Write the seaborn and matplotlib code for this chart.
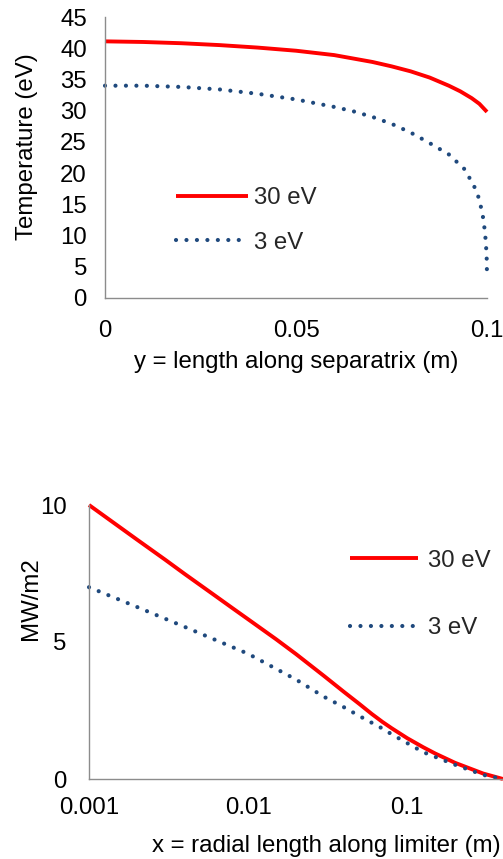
import numpy as np
import pandas as pd
import matplotlib
matplotlib.use("Agg")
import matplotlib.pyplot as plt
from matplotlib.ticker import FixedLocator, LogLocator, NullFormatter, FixedFormatter
import seaborn as sns

# ---------------- data ----------------
# Top panel: temperature along separatrix
sep_y_30 = [0, 0.01, 0.02, 0.03, 0.04, 0.05, 0.06, 0.07, 0.075, 0.08, 0.085, 0.09, 0.093, 0.096, 0.098, 0.1]
temp_30 = [41.1, 41.0, 40.8, 40.5, 40.1, 39.6, 38.9, 37.8, 37.1, 36.3, 35.3, 34.0, 33.1, 32.0, 31.1, 29.8]

sep_y_3 = [0, 0.01, 0.02, 0.03, 0.04, 0.05, 0.06, 0.065, 0.07, 0.075, 0.08, 0.085, 0.09, 0.094,
           0.0965, 0.098, 0.099, 0.0995, 0.0999, 0.1]
temp_3 = [34.0, 34.0, 33.8, 33.4, 32.7, 31.8, 30.6, 29.9, 29.0, 27.9, 26.5, 24.8, 23.0, 20.7,
          18.1, 15.8, 12.8, 10.4, 7.0, 3.6]

# Bottom panel: heat flux along limiter
lim_x_30 = [0.001, 0.002, 0.003, 0.004, 0.006, 0.008, 0.01, 0.015, 0.02, 0.03, 0.04, 0.05, 0.06,
            0.07, 0.08, 0.1, 0.126, 0.15, 0.2, 0.3, 0.4]
flux_30 = [10.0, 8.74, 8.01, 7.48, 6.75, 6.23, 5.83, 5.10, 4.56, 3.76, 3.18, 2.74, 2.37, 2.08,
           1.85, 1.49, 1.16, 0.93, 0.59, 0.20, 0.0]

lim_x_3 = [0.001, 0.002, 0.004, 0.01, 0.02, 0.03, 0.04, 0.05, 0.06, 0.07, 0.08, 0.1, 0.126, 0.2, 0.3, 0.4]
flux_3 = [7.0, 6.28, 5.55, 4.57, 3.63, 3.0, 2.62, 2.30, 2.05, 1.84, 1.63, 1.31, 0.98, 0.52, 0.15, 0.0]

series_labels = ["30 eV", "3 eV"]
top_yticks = [0, 5, 10, 15, 20, 25, 30, 35, 40, 45]
top_xticks = [0, 0.05, 0.1]
top_xticklabels = ["0", "0.05", "0.1"]
bot_yticks = [0, 5, 10]
bot_xticks = [0.001, 0.01, 0.1]
bot_xticklabels = ["0.001", "0.01", "0.1"]

# ---------------- style ----------------
sns.set_theme(style="white")
plt.rcParams["font.family"] = ["Liberation Sans", "DejaVu Sans"]
FS = 17.3
RED = "#FF0000"
BLUE = "#1F497D"
GRAY = "#8C8C8C"

W, H = 503, 859
fig = plt.figure(figsize=(W / 100, H / 100), dpi=100)

def axes_px(l, t, r, b):
    return fig.add_axes([l / W, 1 - b / H, (r - l) / W, (b - t) / H])

ax1 = axes_px(105, 17, 487, 298)
ax2 = axes_px(89, 505, 503, 779)

def style_axes(ax):
    for s in ["top", "right"]:
        ax.spines[s].set_visible(False)
    for s in ["left", "bottom"]:
        ax.spines[s].set_color(GRAY)
        ax.spines[s].set_linewidth(1.0)
    ax.tick_params(which="both", direction="out", color=GRAY, width=1.0,
                   labelsize=FS, labelcolor="black")
    ax.set_facecolor("white")

dot_style = dict(linestyle=(0, (0.01, 2.5)), dash_capstyle="round", linewidth=3.0)
solid_style = dict(linestyle="-", linewidth=2.8, solid_capstyle="butt")

# ---- top panel ----
df_top_30 = pd.DataFrame({"y": sep_y_30, "T": temp_30})
df_top_3 = pd.DataFrame({"y": sep_y_3, "T": temp_3})
sns.lineplot(data=df_top_30, x="y", y="T", ax=ax1, color=RED, estimator=None, sort=False,
             label=series_labels[0], **solid_style)
sns.lineplot(data=df_top_3, x="y", y="T", ax=ax1, color=BLUE, estimator=None, sort=False,
             label=series_labels[1], **dot_style)
ax1.set_xlim(0, 0.1)
ax1.set_ylim(0, 45)
style_axes(ax1)
ax1.set_yticks(top_yticks)
ax1.set_xticks(top_xticks)
ax1.set_xticklabels(top_xticklabels)
ax1.tick_params(axis="y", length=5, pad=8)
ax1.tick_params(axis="x", length=5, pad=11)
ax1.set_xlabel("y = length along separatrix (m)", fontsize=FS, color="black")
ax1.set_ylabel("Temperature (eV)", fontsize=FS, color="black")
ax1.xaxis.set_label_coords(0.5, -0.19)
ax1.yaxis.set_label_coords(-0.175, 0.54)
leg1 = ax1.legend(loc="center left", bbox_to_anchor=(0.186, 0.276), frameon=False, fontsize=FS,
                  handlelength=3.0, handletextpad=0.25, labelspacing=0.95,
                  borderpad=0, borderaxespad=0)

# ---- bottom panel ----
df_bot_30 = pd.DataFrame({"x": lim_x_30, "q": flux_30})
df_bot_3 = pd.DataFrame({"x": lim_x_3, "q": flux_3})
sns.lineplot(data=df_bot_30, x="x", y="q", ax=ax2, color=RED, estimator=None, sort=False,
             label=series_labels[0], **solid_style)
sns.lineplot(data=df_bot_3, x="x", y="q", ax=ax2, color=BLUE, estimator=None, sort=False,
             label=series_labels[1], **dot_style)
ax2.set_xscale("log")
ax2.set_xlim(0.001, 0.4)
ax2.set_ylim(0, 10)
style_axes(ax2)
ax2.set_yticks(bot_yticks)
ax2.yaxis.set_minor_locator(FixedLocator(list(range(0, 11))))
ax2.xaxis.set_major_locator(FixedLocator(bot_xticks))
ax2.xaxis.set_major_formatter(FixedFormatter(bot_xticklabels))
ax2.xaxis.set_minor_locator(LogLocator(base=10, subs=np.arange(2, 10)))
ax2.xaxis.set_minor_formatter(NullFormatter())
ax2.tick_params(axis="y", which="both", length=4, pad=12)
ax2.tick_params(axis="x", which="both", length=4, pad=9)
ax2.set_xlabel("x = radial length along limiter (m)", fontsize=FS, color="black")
ax2.set_ylabel("MW/m2", fontsize=FS, color="black")
ax2.xaxis.set_label_coords(0.574, -0.205)
ax2.yaxis.set_label_coords(-0.113, 0.66)
leg2 = ax2.legend(loc="center left", bbox_to_anchor=(0.630, 0.673), frameon=False, fontsize=FS,
                  handlelength=2.84, handletextpad=0.4, labelspacing=1.9,
                  borderpad=0, borderaxespad=0)

for ax in (ax1, ax2):
    for line in ax.lines:
        line.set_clip_on(False)

fig.savefig("out.png", dpi=100, facecolor="white")
